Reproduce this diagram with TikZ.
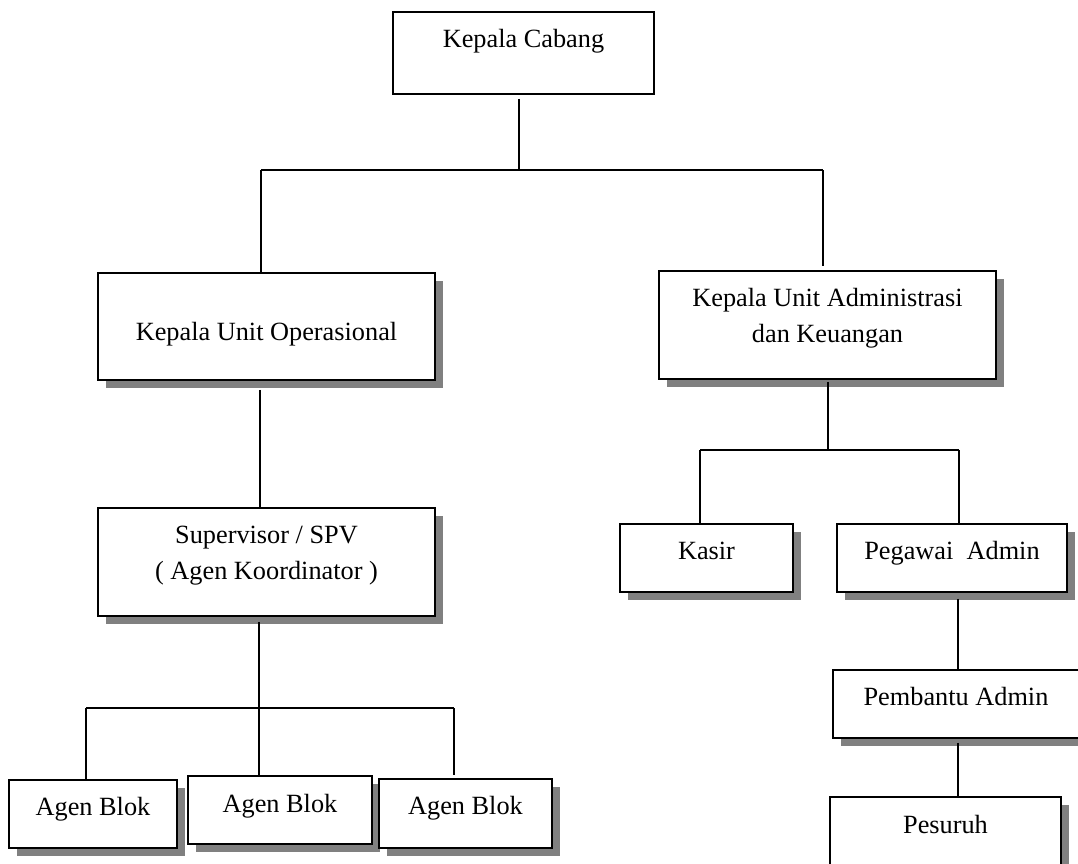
\documentclass[tikz,border=0pt]{standalone}
\usepackage{fontspec}
\setmainfont{Liberation Serif}
\usetikzlibrary{shadows}
\tikzset{
  box/.style={draw, line width=1.8pt, fill=white, inner sep=0pt},
  shad/.style={general shadow={fill=black!50, shadow xshift=8pt, shadow yshift=-8pt}},
  txt/.style={anchor=base, inner sep=0pt, font=\fontsize{26.3}{36}\selectfont},
  conn/.style={line width=1.8pt}
}
\begin{document}
\begin{tikzpicture}[x=1pt, y=-1pt]
\useasboundingbox (0,0) rectangle (1078,864);
\clip (0,0) rectangle (1078,864);
\fill[white] (0,0) rectangle (1078,864);

% boxes
\node[box, minimum width=261pt, minimum height=82pt] (kc) at (523.5,53) {};
\node[box, shad, minimum width=337pt, minimum height=107pt] (kuo) at (266.5,326.5) {};
\node[box, shad, minimum width=337pt, minimum height=108pt] (kuak) at (827.5,325) {};
\node[box, shad, minimum width=337pt, minimum height=108pt] (spv) at (266.5,562) {};
\node[box, shad, minimum width=173pt, minimum height=68pt] (kasir) at (706.5,558) {};
\node[box, shad, minimum width=230pt, minimum height=68pt] (peg) at (952,558) {};
\node[box, shad, minimum width=246pt, minimum height=68pt] (pemb) at (956,704) {};
\node[box, shad, minimum width=231pt, minimum height=70pt] (pes) at (945.5,832) {};
\node[box, shad, minimum width=168pt, minimum height=68pt] (a1) at (93,814) {};
\node[box, shad, minimum width=184pt, minimum height=68pt] (a2) at (280,810) {};
\node[box, shad, minimum width=173pt, minimum height=69pt] (a3) at (465.5,813.5) {};

% texts
\node[txt] (kct) at (523.5,48) {Kepala Cabang};
\node[txt] (kuot) at (266.5,340) {Kepala Unit Operasional};
\node[txt] (kuakt1) at (827.5,306) {Kepala Unit Administrasi};
\node[txt] (kuakt2) at (827.5,342) {dan Keuangan};
\node[txt] (spvt1) at (266.5,543) {Supervisor / SPV};
\node[txt] (spvt2) at (266.5,579) {( Agen Koordinator )};
\node[txt] (kasirt) at (706.5,559) {Kasir};
\node[txt] (pegt) at (952,559) {Pegawai~~Admin};
\node[txt] (pembt) at (956,705) {Pembantu Admin};
\node[txt] (pest) at (945.5,833) {Pesuruh};
\node[txt] (a1t) at (93,815) {Agen Blok};
\node[txt] (a2t) at (280,812) {Agen Blok};
\node[txt] (a3t) at (465.5,814) {Agen Blok};

% junction coordinates
\coordinate (j0) at (519,170);
\coordinate (jL) at (261,170);
\coordinate (jR) at (823,170);
\coordinate (j1) at (259,708);
\coordinate (j1L) at (86,708);
\coordinate (j1R) at (454,708);
\coordinate (j2) at (828,450);
\coordinate (j2L) at (700,450);
\coordinate (j2R) at (959,450);

% connectors
\draw[conn] ([yshift=-4pt]kc.south -| j0) -- (j0);
\draw[conn] (jL) -- (jR);
\draw[conn] (jL) -- (jL |- kuo.north);
\draw[conn] (jR) -- ([yshift=4pt]jR |- kuak.north);
\draw[conn] ([yshift=-9pt]kuo.south -| 260,0) -- (260,0 |- spv.north);
\draw[conn] ([yshift=-5pt]spv.south -| j1) -- (j1);
\draw[conn] (j1L) -- (j1R);
\draw[conn] (j1L) -- (j1L |- a1.north);
\draw[conn] (j1) -- (j1 |- a2.north);
\draw[conn] (j1R) -- ([yshift=3pt]j1R |- a3.north);
\draw[conn] ([yshift=-2pt]kuak.south -| j2) -- (j2);
\draw[conn] (j2L) -- (j2R);
\draw[conn] (j2L) -- (j2L |- kasir.north);
\draw[conn] (j2R) -- (j2R |- peg.north);
\draw[conn] ([yshift=-6pt]peg.south -| 958,0) -- (958,0 |- pemb.north);
\draw[conn] ([yshift=-4pt]pemb.south -| 958,0) -- (958,0 |- pes.north);
\end{tikzpicture}
\end{document}
